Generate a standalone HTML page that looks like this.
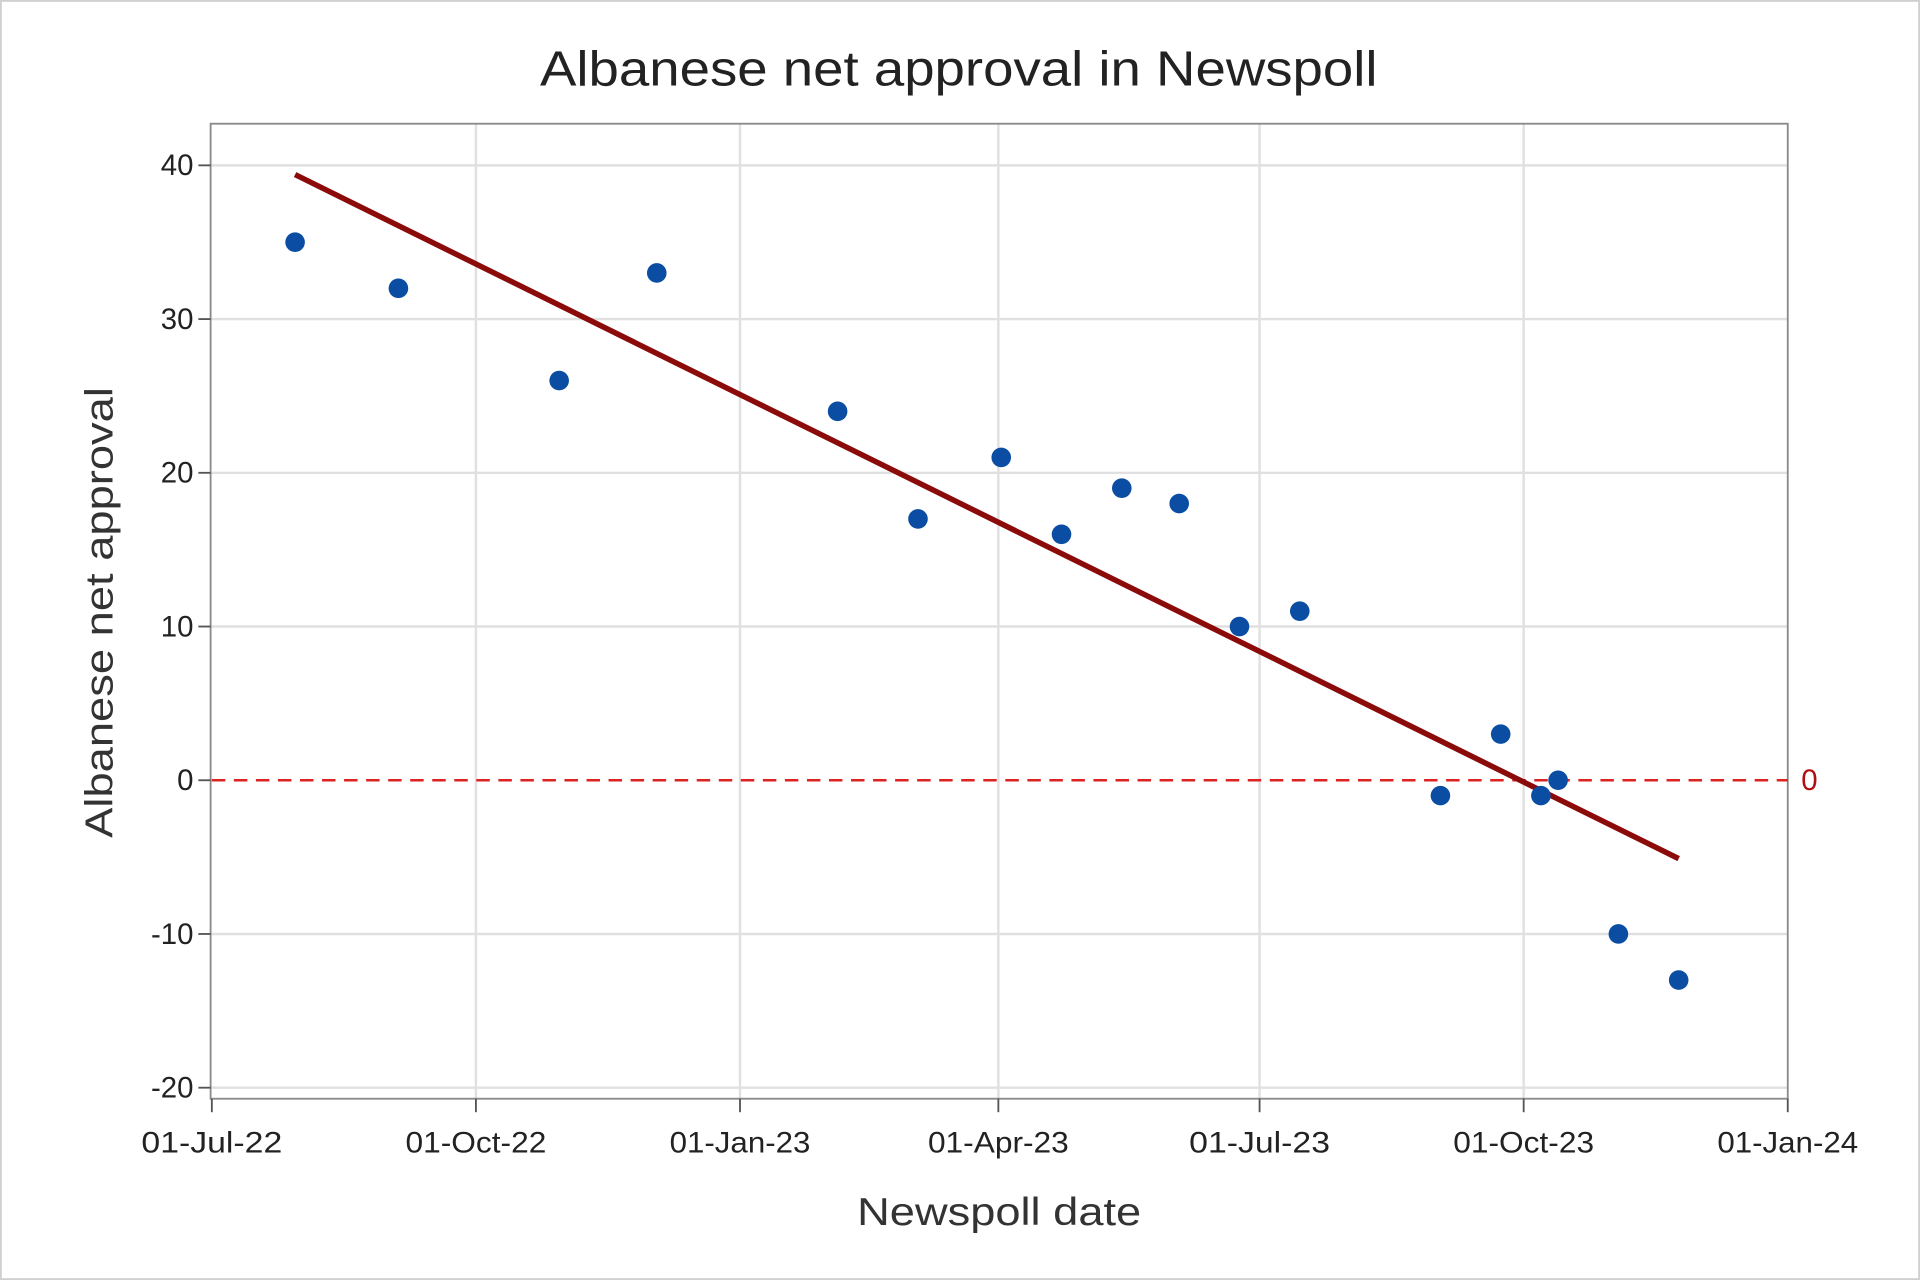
<!DOCTYPE html>
<html><head><meta charset="utf-8"><style>
html,body{margin:0;padding:0;background:#fff;}
svg{display:block;font-family:"Liberation Sans",sans-serif;}
</style></head><body>
<svg id="chart" width="1920" height="1280" viewBox="0 0 1568 1045" preserveAspectRatio="none" xmlns="http://www.w3.org/2000/svg">
<rect x="0.5" y="0.5" width="1567" height="1044" fill="#fff" stroke="#d0d0d0" stroke-width="2"/>
<g id="grid"></g>
<rect x="172" y="101" width="1288" height="796" fill="none" stroke="#8a8a8a" stroke-width="1.5"/>
<g id="axes"></g>
<g id="marks"></g>
<text x="441" y="70" textLength="684" lengthAdjust="spacingAndGlyphs" font-size="40" fill="#222">Albanese net approval in Newspoll</text>
<text x="700" y="1000" textLength="232" lengthAdjust="spacingAndGlyphs" font-size="32" fill="#333">Newspoll date</text>
<text transform="translate(92,684) rotate(-90)" textLength="368" lengthAdjust="spacingAndGlyphs" font-size="32" fill="#333">Albanese net approval</text>
</svg>
<script>
const pollDates = ["2022-07-30","2022-09-04","2022-10-30","2022-12-03","2023-02-04","2023-03-04","2023-04-02","2023-04-23","2023-05-14","2023-06-03","2023-06-24","2023-07-15","2023-09-02","2023-09-23","2023-10-07","2023-10-13","2023-11-03","2023-11-24"];
const netApproval = [35,32,26,33,24,17,21,16,19,18,10,11,-1,3,-1,0,-10,-13];
const xTickLabels = ["01-Jul-22","01-Oct-22","01-Jan-23","01-Apr-23","01-Jul-23","01-Oct-23","01-Jan-24"];
const xTickDates = ["2022-07-01","2022-10-01","2023-01-01","2023-04-01","2023-07-01","2023-10-01","2024-01-01"];
const yTicks = [40,30,20,10,0,-10,-20];
const trendDates = ["2022-07-30","2023-11-24"];
const trendValues = [39.4,-5.1];
const refValue = [0];

const NS="http://www.w3.org/2000/svg";
const t0=Date.parse("2022-07-01"), t1=Date.parse("2024-01-01");
function xs(d){return 173+(Date.parse(d)-t0)/(t1-t0)*(1460-173);}
function ys(v){return 637-v*12.55;}
function mk(tag,attrs,parent){const e=document.createElementNS(NS,tag);for(const k in attrs)e.setAttribute(k,attrs[k]);parent.appendChild(e);return e;}
const grid=document.getElementById('grid'),axes=document.getElementById('axes'),marks=document.getElementById('marks');

xTickDates.forEach((d,i)=>{
  const x=xs(d);
  if(i>0&&i<xTickDates.length-1){const g=mk('line',{x1:x,x2:x,y1:101,y2:897,stroke:'#e0e0e0','stroke-width':2},grid);
  
  }
  const tk=mk('line',{x1:x,x2:x,y1:897,y2:908,stroke:'#555','stroke-width':1.5},axes);
  
  
  const t=mk('text',{x:x,y:941,'text-anchor':'middle','font-size':24,textLength:115,lengthAdjust:'spacingAndGlyphs',fill:'#222'},axes);
  t.textContent=xTickLabels[i];
  
  
});
yTicks.forEach(v=>{
  const y=ys(v);
  if(v!==0){const g=mk('line',{x1:172,x2:1460,y1:y,y2:y,stroke:'#e0e0e0','stroke-width':2},grid);
  
  }
  const tk=mk('line',{x1:162,x2:172,y1:y,y2:y,stroke:'#555','stroke-width':1.5},axes);
  
  
  const t=mk('text',{x:158,y:y+8,'text-anchor':'end','font-size':24,fill:'#222'},axes);
  t.textContent=String(v);
  
  
});
const ry=ys(refValue[0]);
const rl=mk('line',{x1:173,x2:1460,y1:ry,y2:ry,stroke:'#d22','stroke-width':2,'stroke-dasharray':'11,7'},marks);


const rt=mk('text',{x:1471,y:ry+8,'font-size':24,fill:'#b01010'},marks);
rt.textContent=String(refValue[0]);


const tl=mk('line',{x1:xs(trendDates[0]),y1:ys(trendValues[0]),x2:xs(trendDates[1]),y2:ys(trendValues[1]),stroke:'#8b0a0a','stroke-width':4.5},marks);


pollDates.forEach((d,i)=>{
  const c=mk('circle',{cx:xs(d),cy:ys(netApproval[i]),r:8,fill:'#0a4da2'},marks);
  
  
});
</script>
</body></html>
